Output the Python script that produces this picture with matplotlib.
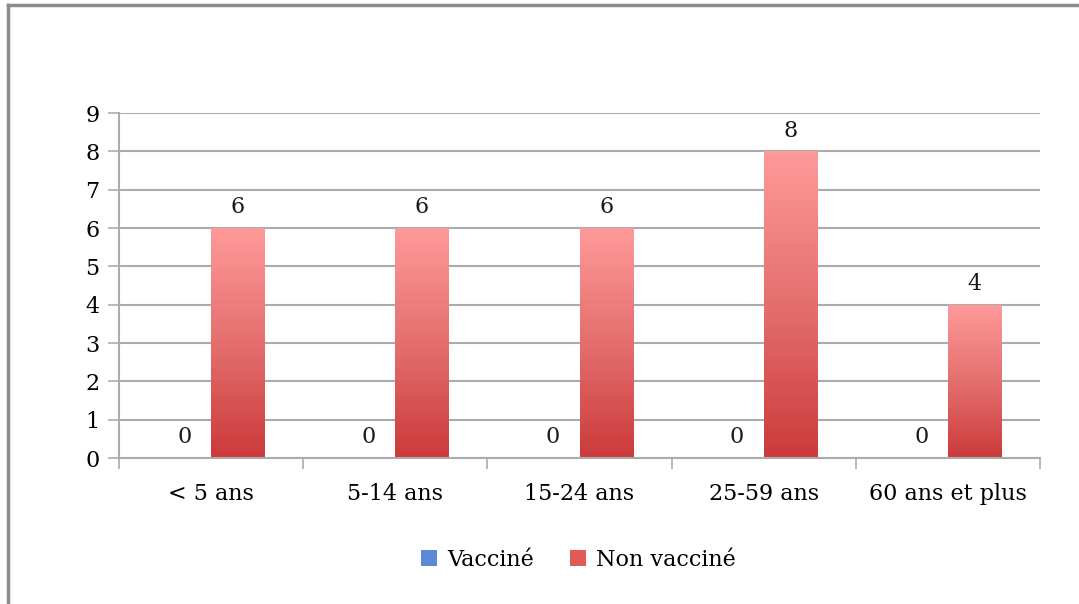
import matplotlib
matplotlib.use("Agg")
import matplotlib.pyplot as plt
import numpy as np
from matplotlib.colors import LinearSegmentedColormap
from matplotlib.lines import Line2D
from matplotlib.patches import Patch

categories = ["< 5 ans", "5-14 ans", "15-24 ans", "25-59 ans", "60 ans et plus"]
vaccine = [0, 0, 0, 0, 0]
non_vaccine = [6, 6, 6, 8, 4]
series_labels = ["Vaccin\u00e9", "Non vaccin\u00e9"]
y_ticks = list(range(0, 10))

plt.rcParams["font.family"] = ["DejaVu Serif"]
FS = 16

GRID = "#ababab"
red_cmap = LinearSegmentedColormap.from_list(
    "red_grad", [(0.0, "#cc3a3a"), (0.45, "#e26a6a"), (1.0, "#ff9a9a")]
)
blue_cmap = LinearSegmentedColormap.from_list(
    "blue_grad", [(0.0, "#3a6fc0"), (1.0, "#9dbbea")]
)


def gradient_fill(ax, bars, cmap):
    grad = np.linspace(0, 1, 256).reshape(-1, 1)
    for bar in bars:
        x0, y0 = bar.get_x(), bar.get_y()
        w, h = bar.get_width(), bar.get_height()
        bar.set_facecolor("none")
        if h <= 0:
            continue
        im = ax.imshow(grad, cmap=cmap, origin="lower", aspect="auto",
                       extent=(x0, x0 + w, y0, y0 + h), zorder=2)
        im.set_clip_path(bar)


fig = plt.figure(figsize=(10.79, 6.04), dpi=100)
ax = fig.add_axes([0.1103, 0.2417, 0.8536, 0.5712])

x = np.arange(len(categories))
width = 0.29
b1 = ax.bar(x - width / 2, vaccine, width, linewidth=0, zorder=2)
b2 = ax.bar(x + width / 2, non_vaccine, width, linewidth=0, zorder=2)
gradient_fill(ax, b1, blue_cmap)
gradient_fill(ax, b2, red_cmap)

for bars, vals in ((b1, vaccine), (b2, non_vaccine)):
    for bar, v in zip(bars, vals):
        ax.annotate(f"{v}", (bar.get_x() + bar.get_width() / 2, v),
                    xytext=(0, 7), textcoords="offset points",
                    ha="center", va="bottom", fontsize=FS, color="#1a1a1a")

ax.set_xlim(-0.5, len(categories) - 0.5)
ax.set_ylim(0, 9)
ax.set_yticks(y_ticks)
ax.set_xticks(x)
ax.set_xticklabels(categories)
ax.set_xticks(np.arange(-0.5, len(categories)), minor=True)
ax.tick_params(axis="x", which="major", length=0, pad=18, labelsize=FS)
ax.tick_params(axis="x", which="minor", length=8, width=1.2, color=GRID)
ax.tick_params(axis="y", length=8, width=1.2, color=GRID, pad=6, labelsize=FS)
ax.grid(axis="y", color=GRID, linewidth=1.5, zorder=0)
ax.set_axisbelow(True)
for side in ("top", "right"):
    ax.spines[side].set_visible(False)
for side in ("left", "bottom"):
    ax.spines[side].set_color(GRID)
    ax.spines[side].set_linewidth(1.5)

handles = [Patch(facecolor="#5b8ad6", edgecolor="none"),
           Patch(facecolor="#e05a5a", edgecolor="none")]
fig.legend(handles, series_labels, loc="center", bbox_to_anchor=(0.536, 0.073),
           ncol=2, frameon=False, fontsize=FS, handlelength=0.75, handleheight=0.75,
           handletextpad=0.45, columnspacing=1.6)

# outer frame (left and top edges visible)
fig.add_artist(Line2D([0.0075, 0.0075], [0.0, 0.991], transform=fig.transFigure,
                      color="#8c8c8c", linewidth=2.5))
fig.add_artist(Line2D([0.0075, 1.0], [0.991, 0.991], transform=fig.transFigure,
                      color="#8c8c8c", linewidth=2.5))

fig.savefig("out.png", dpi=100)
